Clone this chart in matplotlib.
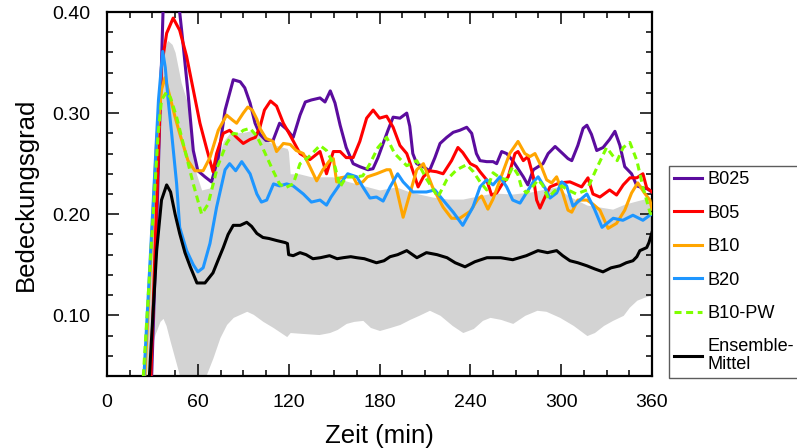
import matplotlib
matplotlib.use("Agg")
import matplotlib.pyplot as plt
import numpy as np
from matplotlib.ticker import MultipleLocator, FormatStrFormatter

plt.rcParams["font.family"] = ["Liberation Sans", "DejaVu Sans"]

# --- cloud cover time series (time in min, cover fraction) ---------------
t_b025 = [0, 22, 29.5, 33, 37, 42, 46, 48, 50, 53.5, 57, 60, 64.7, 69, 73.5, 78, 83.4, 88, 91, 94.5,
          97.8, 101, 105, 109.7, 114, 118.7, 123, 127.5, 131, 135, 140.7, 144, 147.5, 150.6, 154, 158,
          162.6, 167, 172.4, 175.7, 179, 182.4, 185.6, 189, 193.5, 198, 200, 202, 204.6, 209, 213,
          216.6, 220, 224.4, 228.7, 233, 237.6, 240.9, 244, 246.4, 250.8, 255, 257.4, 260.7, 264, 268,
          275, 278, 281.6, 284.8, 288, 291.4, 296, 301, 304.5, 307, 311, 314.5, 317, 320, 323.5, 327.7,
          332, 335.5, 338.8, 342, 346.5, 350, 354, 357, 360]
v_b025 = [0, 0, 0.04, 0.20, 0.40, 0.44, 0.42, 0.40, 0.372, 0.32, 0.263, 0.243, 0.237, 0.232, 0.256, 0.303,
          0.333, 0.331, 0.325, 0.31, 0.29, 0.279, 0.273, 0.273, 0.29, 0.284, 0.276, 0.298, 0.311, 0.313,
          0.315, 0.311, 0.322, 0.31, 0.288, 0.266, 0.25, 0.247, 0.244, 0.245, 0.256, 0.27, 0.283, 0.296,
          0.295, 0.30, 0.287, 0.26, 0.25, 0.247, 0.243, 0.256, 0.27, 0.276, 0.281, 0.283, 0.286, 0.28,
          0.26, 0.253, 0.252, 0.252, 0.25, 0.262, 0.26, 0.253, 0.237, 0.229, 0.244, 0.247, 0.25, 0.26,
          0.267, 0.26, 0.255, 0.253, 0.268, 0.285, 0.288, 0.279, 0.263, 0.266, 0.274, 0.282, 0.268,
          0.247, 0.24, 0.228, 0.226, 0.225, 0.222]

t_b05 = [0, 24, 29, 32.8, 36, 39.4, 43.7, 48, 52.6, 57, 61.4, 65.8, 70, 72.4, 76.8, 81, 85.6, 90, 94.5,
         98, 101, 104, 108, 112, 116.5, 121, 127.5, 134, 140.7, 145, 149.5, 154, 158, 162.6, 167, 171.5,
         175.8, 180, 184.7, 189, 193.5, 198, 202, 205.5, 209, 213, 217.7, 222, 227.6, 231.8, 235, 240,
         244, 246.4, 250.8, 254, 257.4, 260.7, 265, 269.5, 271.5, 275, 278, 281.6, 283.8, 286, 289.3,
         292.6, 299, 305.8, 313.5, 317.7, 321, 325.6, 332, 336.6, 341, 345.4, 350, 354, 356.5, 360]
v_b05 = [0, 0, 0.04, 0.214, 0.346, 0.379, 0.394, 0.382, 0.356, 0.323, 0.29, 0.265, 0.242, 0.26, 0.28,
         0.283, 0.276, 0.27, 0.274, 0.276, 0.286, 0.303, 0.312, 0.307, 0.29, 0.278, 0.26, 0.254, 0.262,
         0.24, 0.262, 0.262, 0.256, 0.256, 0.272, 0.295, 0.303, 0.295, 0.297, 0.286, 0.268, 0.26, 0.243,
         0.227, 0.237, 0.243, 0.242, 0.24, 0.253, 0.266, 0.261, 0.25, 0.247, 0.242, 0.234, 0.219, 0.221,
         0.229, 0.237, 0.26, 0.262, 0.253, 0.257, 0.237, 0.214, 0.206, 0.217, 0.227, 0.231, 0.232, 0.227,
         0.236, 0.22, 0.217, 0.224, 0.219, 0.229, 0.236, 0.236, 0.24, 0.226, 0.222]

t_b10 = [0, 20, 25, 29, 32.8, 36, 38.3, 41.6, 45, 48, 53.5, 58, 63.5, 68, 73.5, 79, 83, 85.6, 90, 93, 96,
         99, 101, 105, 109.7, 112, 116.5, 121, 125, 129.7, 134, 138.5, 142.6, 147, 149.5, 151.7, 154,
         158, 162.6, 165, 169, 172, 178, 184.7, 187, 191, 195.6, 200, 204.6, 209, 215, 222, 227.6, 233,
         240, 245, 247.5, 251.6, 255, 259.6, 266, 271.5, 276, 279.4, 282.7, 287, 290.4, 293.7, 297, 301,
         304.5, 307, 311, 317, 321, 325.6, 331, 336.6, 342, 346.5, 350.6, 355, 358.6, 360]
v_b10 = [0, 0, 0.04, 0.16, 0.273, 0.323, 0.335, 0.316, 0.296, 0.28, 0.253, 0.243, 0.243, 0.256, 0.283,
         0.298, 0.293, 0.29, 0.30, 0.306, 0.303, 0.294, 0.285, 0.275, 0.272, 0.262, 0.27, 0.269, 0.263,
         0.26, 0.247, 0.233, 0.244, 0.253, 0.255, 0.232, 0.236, 0.237, 0.237, 0.23, 0.232, 0.237, 0.24,
         0.244, 0.244, 0.227, 0.197, 0.22, 0.244, 0.25, 0.227, 0.207, 0.196, 0.196, 0.203, 0.215, 0.218,
         0.205, 0.215, 0.234, 0.26, 0.272, 0.26, 0.257, 0.26, 0.247, 0.234, 0.231, 0.237, 0.221, 0.204,
         0.202, 0.214, 0.214, 0.21, 0.204, 0.186, 0.191, 0.204, 0.221, 0.231, 0.221, 0.214, 0.205]

t_b20 = [0, 19, 24.4, 30.6, 34, 36.8, 38.5, 40.4, 42.7, 46, 48, 52.6, 57, 60, 63.5, 68, 72.4, 78, 81, 85,
         89, 94.5, 99, 102, 105.5, 110, 114, 118.7, 123, 129.7, 135, 140.7, 145, 148, 154, 159, 165, 169,
         173.7, 178, 182.4, 187, 192, 195.6, 202, 211, 216.6, 222, 228.7, 235, 241.7, 246.4, 250.8, 255,
         259.6, 264, 268, 272.8, 277, 281.6, 284.8, 289.3, 292.6, 297, 300.4, 303.6, 307.8, 317, 322,
         327, 334.4, 340.8, 347.4, 354, 358.6, 360]
v_b20 = [0, 0, 0.04, 0.214, 0.313, 0.361, 0.345, 0.313, 0.28, 0.23, 0.187, 0.164, 0.15, 0.143, 0.147,
         0.171, 0.207, 0.244, 0.25, 0.243, 0.252, 0.24, 0.22, 0.212, 0.214, 0.23, 0.228, 0.23, 0.228,
         0.22, 0.212, 0.214, 0.209, 0.217, 0.23, 0.24, 0.237, 0.227, 0.216, 0.217, 0.213, 0.227, 0.24,
         0.232, 0.222, 0.222, 0.224, 0.214, 0.202, 0.189, 0.207, 0.227, 0.234, 0.229, 0.237, 0.227,
         0.214, 0.211, 0.221, 0.232, 0.237, 0.226, 0.216, 0.221, 0.232, 0.228, 0.208, 0.22, 0.205, 0.187,
         0.196, 0.194, 0.199, 0.194, 0.199, 0.20]

t_b10pw = [0, 19, 24, 30.4, 33.8, 36, 39.4, 42, 46, 51.5, 57, 62.5, 66.8, 73, 79, 83.4, 87, 90, 94.5, 99,
           103, 109.7, 114, 117.6, 123, 127.5, 132.8, 140.7, 145, 150.6, 154, 158, 165, 169, 173.7, 179,
           184.7, 190, 198, 204.6, 211, 218.6, 224.4, 231, 237.6, 242, 246.4, 250.8, 255, 259.6, 264,
           268, 271.5, 273.7, 277, 279.4, 284.8, 287.7, 291.4, 295.6, 300.4, 304.5, 310, 317, 323, 330,
           334, 337, 341, 345.4, 350, 354, 358.6, 360]
v_b10pw = [0, 0, 0.04, 0.197, 0.28, 0.313, 0.321, 0.315, 0.296, 0.263, 0.23, 0.20, 0.21, 0.247, 0.27,
           0.28, 0.279, 0.283, 0.285, 0.277, 0.265, 0.243, 0.23, 0.226, 0.23, 0.25, 0.256, 0.268, 0.263,
           0.247, 0.227, 0.237, 0.237, 0.238, 0.25, 0.266, 0.276, 0.26, 0.248, 0.253, 0.235, 0.217,
           0.234, 0.244, 0.249, 0.242, 0.232, 0.224, 0.241, 0.236, 0.234, 0.247, 0.239, 0.227, 0.221,
           0.224, 0.234, 0.229, 0.216, 0.223, 0.228, 0.224, 0.22, 0.224, 0.244, 0.266, 0.258, 0.253,
           0.266, 0.271, 0.253, 0.227, 0.202, 0.198]

t_mean = [0, 20, 28, 32.8, 36, 39.4, 42, 45, 48, 51.5, 55, 59.4, 64.7, 70, 73.5, 76.8, 80, 83.4, 88, 92.3,
          95.5, 99, 103, 107, 112, 117.6, 119.2, 120, 123, 127.5, 131.5, 136, 141, 147, 152, 156, 161,
          165, 170, 178, 183, 187, 192, 198, 204.7, 211, 218, 224.6, 230, 236.5, 243, 251, 260, 268, 277,
          284.7, 291, 297, 301, 305.8, 311, 317, 322, 327.6, 333, 338.8, 343, 347.4, 350, 352, 356.5,
          358, 360]
v_mean = [0, 0, 0.04, 0.164, 0.214, 0.229, 0.222, 0.20, 0.181, 0.162, 0.148, 0.132, 0.132, 0.142, 0.155,
          0.167, 0.18, 0.189, 0.189, 0.192, 0.188, 0.181, 0.177, 0.176, 0.174, 0.172, 0.171, 0.16, 0.159,
          0.162, 0.16, 0.156, 0.157, 0.159, 0.156, 0.157, 0.158, 0.157, 0.156, 0.152, 0.154, 0.158, 0.16,
          0.164, 0.157, 0.162, 0.16, 0.157, 0.152, 0.148, 0.153, 0.157, 0.157, 0.155, 0.159, 0.164,
          0.162, 0.164, 0.159, 0.154, 0.152, 0.149, 0.146, 0.143, 0.147, 0.149, 0.152, 0.154, 0.158,
          0.164, 0.167, 0.172, 0.182]

# ensemble spread (shaded)
t_spread_hi = [0, 20, 24, 30, 34, 37, 40, 43, 45, 49, 52.6, 56, 59, 62.5, 68, 72.4, 76.8, 81, 90, 96.6,
               101, 105, 112, 119, 119.8, 121, 127, 135, 149, 160, 170, 180, 191, 200, 215, 225, 235,
               245, 255, 268, 280, 293, 297, 305, 317, 326, 334, 342, 352, 360]
v_spread_hi = [0, 0, 0.04, 0.21, 0.32, 0.36, 0.372, 0.368, 0.36, 0.33, 0.313, 0.28, 0.24, 0.224, 0.226,
               0.25, 0.272, 0.28, 0.281, 0.283, 0.278, 0.273, 0.268, 0.265, 0.262, 0.24, 0.24, 0.237,
               0.237, 0.232, 0.228, 0.224, 0.227, 0.222, 0.217, 0.215, 0.215, 0.218, 0.221, 0.22, 0.222,
               0.226, 0.227, 0.218, 0.209, 0.207, 0.205, 0.21, 0.214, 0.217]
t_spread_lo = [0, 22, 25, 28, 31.7, 35, 37, 39, 41.6, 46, 48, 52, 57, 62, 65.8, 70, 74.6, 79, 83.4, 92.3,
               96.6, 103, 109.7, 118.7, 121, 130, 140, 147, 152, 158, 163, 169, 174, 180, 187, 193.5,
               200, 206, 213, 220, 228, 235, 242, 248, 253, 260, 268, 276, 284, 290, 299, 308, 317, 322,
               328, 334, 341, 345, 350, 355, 360]
v_spread_lo = [0, 0, 0.03, 0.06, 0.081, 0.094, 0.097, 0.09, 0.075, 0.051, 0.04, 0.022, 0.012, 0.022,
               0.042, 0.058, 0.078, 0.091, 0.098, 0.104, 0.101, 0.094, 0.088, 0.079, 0.083, 0.082, 0.081,
               0.083, 0.086, 0.092, 0.094, 0.095, 0.088, 0.085, 0.088, 0.091, 0.096, 0.10, 0.105, 0.10,
               0.09, 0.083, 0.087, 0.095, 0.098, 0.096, 0.092, 0.10, 0.105, 0.104, 0.098, 0.09, 0.08,
               0.083, 0.09, 0.095, 0.10, 0.108, 0.115, 0.118, 0.12]

series = [
    (t_b025, v_b025, "B025", "#5b0c9e", "-"),
    (t_b05, v_b05, "B05", "#ff0000", "-"),
    (t_b10, v_b10, "B10", "#ffa500", "-"),
    (t_b20, v_b20, "B20", "#1e96ff", "-"),
    (t_b10pw, v_b10pw, "B10-PW", "#7fff00", (0, (2.3, 1.5))),
]


def main():
    fig = plt.figure(figsize=(7.97, 4.48), dpi=100)
    ax = fig.add_axes([107 / 797, 1 - 376 / 448, 545 / 797, 364 / 448])

    # spread band between two differently sampled edges
    grid = np.union1d(t_spread_hi, t_spread_lo)
    hi = np.interp(grid, t_spread_hi, v_spread_hi)
    lo = np.interp(grid, t_spread_lo, v_spread_lo)
    ax.fill_between(grid, lo, hi, color="#d3d3d3", linewidth=0, zorder=1)

    for t, v, label, color, ls in series:
        ax.plot(t, v, color=color, linestyle=ls, linewidth=2.2, label=label, zorder=3)
    ax.plot(t_mean, v_mean, color="black", linewidth=2.2, label="Ensemble-\nMittel", zorder=4)

    ax.set_xlim(0, 360)
    ax.set_ylim(0.04, 0.40)
    ax.xaxis.set_major_locator(MultipleLocator(60))
    ax.xaxis.set_minor_locator(MultipleLocator(15))
    ax.yaxis.set_major_locator(MultipleLocator(0.10))
    ax.yaxis.set_minor_locator(MultipleLocator(0.02))
    ax.yaxis.set_major_formatter(FormatStrFormatter("%.2f"))
    ax.tick_params(which="both", direction="in", top=True, right=True, width=1.1)
    ax.tick_params(which="major", length=8.5, labelsize=14)
    ax.tick_params(axis="x", which="major", pad=13)
    ax.tick_params(axis="y", which="major", pad=12)
    ax.tick_params(which="minor", length=4.5)
    for sp in ax.spines.values():
        sp.set_linewidth(1.6)

    ax.set_xlabel("Zeit (min)", fontsize=18.5, labelpad=9)
    ax.set_ylabel("Bedeckungsgrad", fontsize=18.5, labelpad=10)

    leg = ax.legend(loc="upper left", bbox_to_anchor=(669 / 797, 1 - 166 / 448),
                    bbox_transform=fig.transFigure, fontsize=13.1, frameon=True,
                    fancybox=False, borderaxespad=0, borderpad=0.3, labelspacing=0.9,
                    handlelength=1.5, handletextpad=0.3)
    leg.get_frame().set_edgecolor("#333333")
    leg.get_frame().set_linewidth(1.0)
    for text in leg.get_texts():
        text.set_linespacing(1.05)

    fig.savefig("out.png", dpi=100)


if __name__ == "__main__":
    main()
